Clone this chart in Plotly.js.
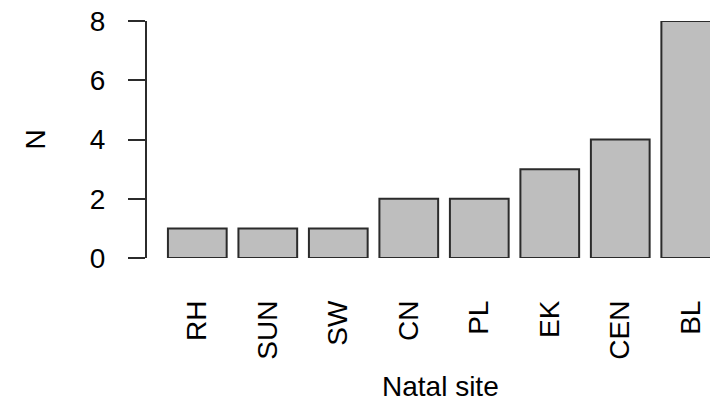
<!DOCTYPE html>
<html>
<head>
<meta charset="utf-8">
<script src="https://cdn.plot.ly/plotly-3.0.1.min.js"></script>
<style>
  html, body { margin: 0; padding: 0; background: #fff; }
  #chart { width: 710px; height: 401px; }
</style>
</head>
<body>
<div id="chart"></div>
<script>
// Number of individuals by natal site
const sites = ["RH", "SUN", "SW", "CN", "PL", "EK", "CEN", "BL"];
const counts = [1, 1, 1, 2, 2, 3, 4, 8];
const yTicks = [0, 2, 4, 6, 8];

const FONT = "Liberation Sans, Arial, sans-serif";
const INK = "#2b2b2b";

const trace = {
  type: "bar",
  x: sites,
  y: counts,
  marker: { color: "#bebebe", line: { color: INK, width: 2 } },
  cliponaxis: false,
  hoverinfo: "skip"
};

const layout = {
  width: 710,
  height: 401,
  margin: { l: 147, r: 0, t: 21, b: 143, pad: 0 },
  paper_bgcolor: "#ffffff",
  plot_bgcolor: "#ffffff",
  showlegend: false,
  bargap: 0.1667,
  font: { family: FONT, size: 28, color: "#000" },
  xaxis: {
    type: "category",
    range: [-0.7136, 7.273],
    showgrid: false,
    zeroline: false,
    showline: false,
    ticks: "",
    tickangle: -90,
    ticklabelstandoff: 36,
    tickfont: { family: FONT, size: 28, color: "#000" }
  },
  yaxis: {
    range: [0, 8],
    tickvals: yTicks,
    ticktext: yTicks.map(String),
    showgrid: false,
    zeroline: false,
    showline: true,
    linecolor: INK,
    linewidth: 2,
    ticks: "outside",
    ticklen: 17,
    tickwidth: 2,
    tickcolor: INK,
    ticklabelstandoff: 17,
    tickfont: { family: FONT, size: 28, color: "#000" }
  },
  annotations: [
    {
      text: "N",
      xref: "paper", yref: "paper",
      x: 0, y: 0.5,
      xanchor: "center", yanchor: "middle",
      xshift: -112,
      textangle: -90,
      showarrow: false,
      font: { family: FONT, size: 28, color: "#000" }
    },
    {
      text: "Natal site",
      xref: "paper", yref: "paper",
      x: 0.522, y: 0,
      xanchor: "center", yanchor: "middle",
      yshift: -128,
      showarrow: false,
      font: { family: FONT, size: 28, color: "#000" }
    }
  ]
};

Plotly.newPlot("chart", [trace], layout, { displayModeBar: false, staticPlot: true });
</script>
</body>
</html>
